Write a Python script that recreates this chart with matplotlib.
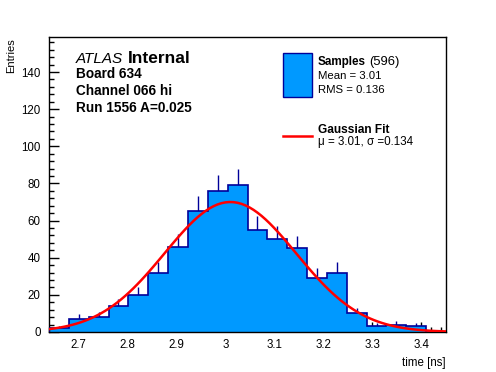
import numpy as np
import matplotlib
matplotlib.use("Agg")
import matplotlib.pyplot as plt
from matplotlib.patches import Rectangle
from matplotlib.lines import Line2D
from matplotlib.ticker import MultipleLocator, FuncFormatter

plt.rcParams['font.family'] = ['Liberation Sans', 'DejaVu Sans']

# histogram range and bin contents
x_min, x_max = 2.64, 3.45
counts = [2, 7, 8, 14, 20, 32, 46, 65, 76, 79, 55, 50, 45, 29, 32, 10, 3, 4, 3, 0]
n_entries = 596
mean_val, rms_val = 3.01, 0.136

# gaussian fit parameters
fit_mu, fit_sigma, fit_amp = 3.01, 0.134, 70.0

y_max = 158.7

fill_col = '#0099ff'
edge_col = '#000099'

W, H = 496, 372
fig = plt.figure(figsize=(W / 100, H / 100), dpi=100)
ax = fig.add_axes([49 / W, 1 - 332 / H, (446 - 49) / W, (332 - 37.3) / H])

counts = np.array(counts, dtype=float)
edges = np.linspace(x_min, x_max, len(counts) + 1)
centers = 0.5 * (edges[:-1] + edges[1:])
err = np.sqrt(counts)

# error bars first, the filled histogram hides the lower half
ax.vlines(centers[counts > 0], (counts - err)[counts > 0], (counts + err)[counts > 0],
          color=edge_col, lw=1, zorder=1)
ax.stairs(counts, edges, fill=True, color=fill_col, zorder=2)
ax.stairs(counts, edges, color=edge_col, lw=1.2, zorder=3)

# fit curve
xf = np.linspace(x_min, x_max, 100)
yf = fit_amp * np.exp(-0.5 * ((xf - fit_mu) / fit_sigma) ** 2)
ax.plot(xf, yf, color='red', lw=1.8, zorder=4)

ax.set_xlim(x_min, x_max)
ax.set_ylim(0, y_max)
ax.xaxis.set_major_locator(MultipleLocator(0.1))
ax.xaxis.set_minor_locator(MultipleLocator(0.02))
ax.yaxis.set_major_locator(MultipleLocator(20))
ax.yaxis.set_minor_locator(MultipleLocator(4))
ax.xaxis.set_major_formatter(FuncFormatter(lambda v, p: '%g' % round(v, 3)))
ax.tick_params(which='both', direction='in', top=False, right=False, width=1, colors='black')
ax.tick_params(which='major', length=7, labelsize=8.3)
ax.tick_params(axis='x', which='major', pad=5)
ax.tick_params(axis='y', which='major', pad=6)
ax.tick_params(which='minor', length=3.5)
for s in ax.spines.values():
    s.set_linewidth(1)

fig.text(11 / W, 1 - 38 / H, 'Entries', rotation=90, ha='center', va='top', fontsize=8)
fig.text(446 / W, 1 - 366 / H, 'time [ns]', ha='right', va='baseline', fontsize=8.3)

# ATLAS label block
fig.text(75.7 / W, 1 - 63.3 / H, 'ATLAS', style='italic', fontsize=11, va='baseline')
fig.text(128.3 / W, 1 - 63.3 / H, 'Internal', weight='bold', fontsize=12.5, va='baseline')
info_lines = ['Board 634', 'Channel 066 hi', 'Run 1556 A=0.025']
for i, line in enumerate(info_lines):
    fig.text(75.7 / W, 1 - (77.7 + 17.3 * i) / H, line, weight='bold', fontsize=9.8, va='baseline')

# legend
fig.add_artist(Rectangle((283.3 / W, 1 - 96.7 / H), 28.4 / W, 43.4 / H,
                         transform=fig.transFigure, fc=fill_col, ec=edge_col, lw=1))
fig.add_artist(Line2D([283 / W, 312 / W], [1 - 136 / H, 1 - 136 / H],
                      transform=fig.transFigure, color='red', lw=1.8))
fig.text(317.7 / W, 1 - 65 / H, 'Samples', weight='bold', fontsize=8.4, va='baseline')
fig.text(369.5 / W, 1 - 65 / H, '(%d)' % n_entries, fontsize=9.4, va='baseline')
fig.text(317.7 / W, 1 - 79.3 / H, 'Mean = %.2f' % mean_val, fontsize=8.2, va='baseline')
fig.text(317.7 / W, 1 - 93.3 / H, 'RMS = %.3f' % rms_val, fontsize=8.2, va='baseline')
fig.text(317.7 / W, 1 - 132.7 / H, 'Gaussian Fit', weight='bold', fontsize=8.6, va='baseline')
fig.text(317.7 / W, 1 - 145 / H, '\u03bc = %.2f, \u03c3 =%.3f' % (fit_mu, fit_sigma),
         fontsize=8.4, va='baseline')

fig.savefig('out.png', dpi=100)
